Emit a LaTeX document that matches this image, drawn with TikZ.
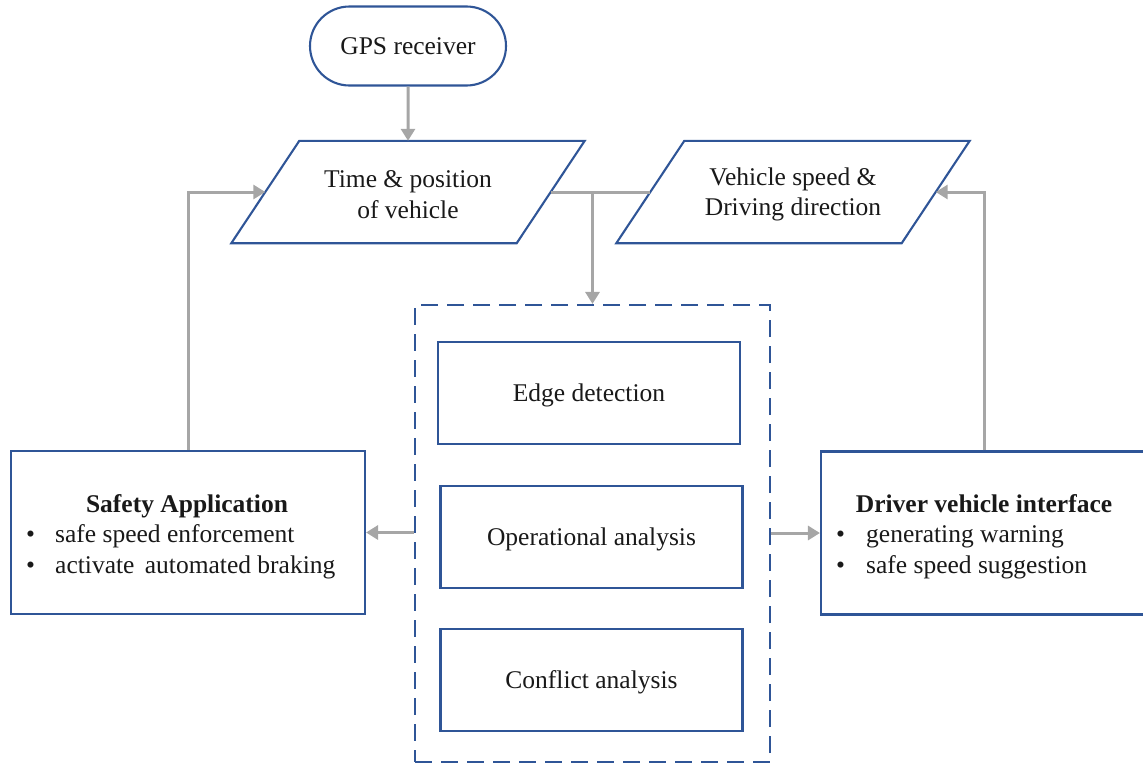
\documentclass[tikz,border=0pt]{standalone}
\usepackage{fontspec}
\setmainfont{Liberation Serif}
\usetikzlibrary{shapes.misc,arrows.meta}
\definecolor{boxblue}{HTML}{2F5597}
\definecolor{linkgrey}{HTML}{A6A6A6}
\newcommand{\firstline}{\rule{0pt}{22.7pt}}
\begin{document}
\begin{tikzpicture}[x=1pt,y=-1pt,
  txt/.style={font=\fontsize{25.5}{30.5}\selectfont,inner sep=0pt,text=black!90},
  base/.style={txt,draw=boxblue,line width=2.1pt,fill=white,align=center},
  oneline/.style={text height=22.7pt,text depth=5.5pt},
  terminal/.style={base,oneline,rounded rectangle,minimum width=196pt,minimum height=79pt},
  % data block: a plain frame whose parallelogram outline is drawn separately
  io/.style={txt,align=center,rectangle,minimum width=285pt,minimum height=102pt},
  ioframe/.style={draw=boxblue,line width=2.1pt,line join=miter},
  proc/.style={base,oneline,rectangle,minimum width=302pt,minimum height=102pt},
  app/.style={base,rectangle,minimum height=163pt},
  group/.style={draw=boxblue,line width=2.1pt,dash pattern=on 17pt off 9pt,rectangle,inner sep=0pt},
  item/.style={txt,anchor=base west},
  link/.style={draw=linkgrey,line width=3pt},
  flow/.style={link,-{Triangle[length=12pt,width=14pt]}}
]
\useasboundingbox (0,0) rectangle (1143,763);

% top of the flow: receiver and the two data blocks
\node[terminal] (gps) at (408,46) {GPS receiver};
\node[io] (pos) at (408,192) {\firstline Time \& position\\of vehicle};
\node[io] (spd) at (793,192) {\firstline Vehicle speed \&\\Driving direction};
\foreach \n in {pos,spd}
  \draw[ioframe] ([xshift=34pt]\n.north west) -- ([xshift=34pt]\n.north east)
    -- ([xshift=-34pt]\n.south east) -- ([xshift=-34pt]\n.south west) -- cycle;

% analysis stages inside the dashed group
\node[group,minimum width=355pt,minimum height=457pt] (grp) at (592.5,533.5) {};
\node[proc] (edge) at (589,393) {Edge detection};
\node[proc] (oper) at (591.5,537) {Operational analysis};
\node[proc] (conf) at (591.5,680) {Conflict analysis};

% output blocks
\node[app,minimum width=354pt] (safe) at (188,532.5) {};
\node[txt,anchor=base,font=\fontsize{25.5}{30.5}\selectfont\bfseries] (safet) at (187,512) {Safety Application};
\node[item] (safe1) at (26,542) {\makebox[29pt][l]{\textbullet}safe speed enforcement};
\node[item] (safe2) at (26,573) {\makebox[29pt][l]{\textbullet}activate\hspace{4pt} automated braking};

\node[app,minimum width=326pt] (dvi) at (984,533) {};
\node[txt,anchor=base,font=\fontsize{25.5}{30.5}\selectfont\bfseries] (dvit) at (984,512) {Driver vehicle interface};
\node[item] (dvi1) at (836,542) {\makebox[30pt][l]{\textbullet}generating warning};
\node[item] (dvi2) at (836,573) {\makebox[30pt][l]{\textbullet}safe speed suggestion};

% connectors
\draw[flow] (gps) -- (pos);
\draw[link] (pos.east) -- (spd.west);
\draw[flow] (grp.north |- pos.east) -- (grp.north);
\draw[flow] (grp.west |- safe.east) -- (safe.east);
\draw[flow] (grp.east |- dvi.west) -- (dvi.west);
\draw[flow] (safe.north) |- (pos.west);
\draw[flow] (dvi.north) |- (spd.east);
\end{tikzpicture}
\end{document}
